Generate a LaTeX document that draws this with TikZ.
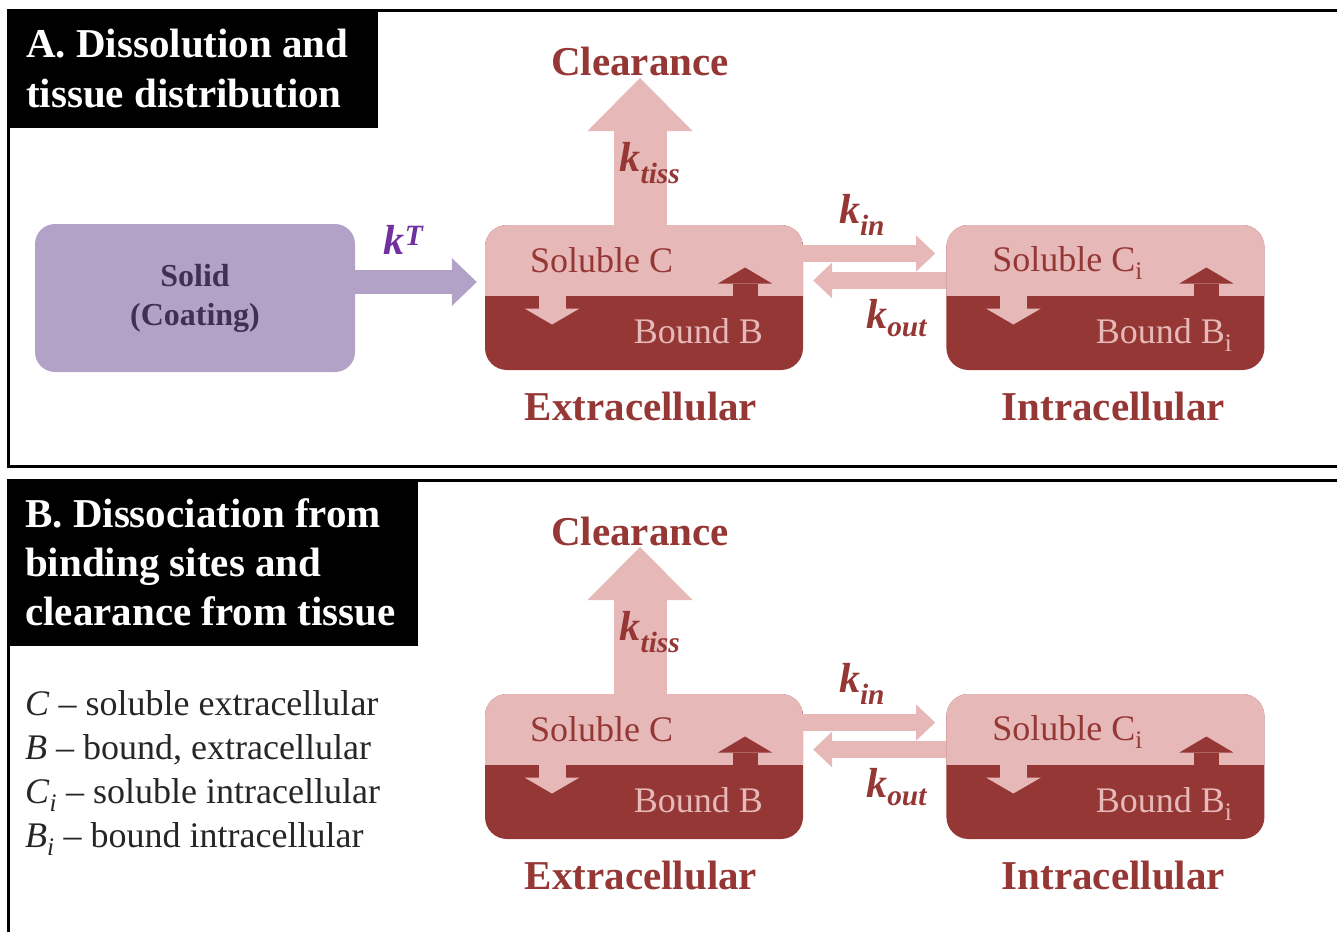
\documentclass[tikz,border=0pt]{standalone}
\usepackage{fontspec}
\setmainfont{Liberation Serif}
\usetikzlibrary{arrows.meta,positioning}
\definecolor{pinkL}{HTML}{E6B9B8}
\definecolor{redD}{HTML}{953735}
\definecolor{lilac}{HTML}{B3A2C7}
\definecolor{plum}{HTML}{403152}
\definecolor{kTcol}{HTML}{7030A0}
\newcommand{\rk}[1]{\textbf{\textit{k}}\textsubscript{\textbf{\textit{#1}}}}
\begin{document}
\begin{tikzpicture}[x=1pt,y=-1pt,
    font=\fontsize{36}{42}\selectfont,
    comp/.style={rounded corners=22pt, minimum width=318pt, minimum height=145pt,
      fill=redD, inner sep=0pt,
      path picture={\fill[pinkL, sharp corners] (path picture bounding box.north west)
        rectangle ([yshift=1.5pt]path picture bounding box.east);}},
    solidbox/.style={rounded corners=20pt, minimum width=320pt, minimum height=148pt,
      fill=lilac, text=plum, align=center, font=\fontsize{32}{39}\selectfont\bfseries},
    flux/.style={draw=pinkL, line width=17pt, -{Triangle[length=19pt,width=36pt,line width=0pt]}},
    upflow/.style={draw=pinkL, line width=53pt, -{Triangle[length=53pt,width=105pt,line width=0pt]}},
    dissolve/.style={draw=lilac, line width=24pt, -{Triangle[length=25pt,width=48pt,line width=0pt]}},
    tobound/.style={draw=pinkL, line width=27pt, -{Triangle[length=16pt,width=55pt,line width=0pt]}},
    tosol/.style={draw=redD, line width=25pt, -{Triangle[length=16pt,width=54pt,line width=0pt]}},
    rate/.style={text=redD, font=\fontsize{42}{42}\selectfont, inner sep=0pt},
    region/.style={text=redD, font=\fontsize{41}{41}\selectfont\bfseries, inner sep=0pt},
    soltext/.style={text=redD, inner sep=0pt},
    bndtext/.style={text=pinkL, inner sep=0pt},
    title/.style={text=white, align=left, inner sep=0pt},
    legend/.style={text=black!85, font=\fontsize{36}{36}\selectfont, inner sep=0pt, anchor=base west}]
  \useasboundingbox (0,0) rectangle (1337,931);

  % panel frames and title boxes
  \draw[line width=3pt] (8,11) rectangle (1350,466);
  \draw[line width=3pt] (8,480) rectangle (1350,945);
  \fill (8,11) rectangle (378,128);
  \fill (8,480) rectangle (418,646);
  \node[title, anchor=base west, font=\fontsize{41}{50}\selectfont\bfseries] (titA) at (26,108)
    {A. Dissolution and\\tissue distribution};
  \node[title, anchor=base west, font=\fontsize{41}{49}\selectfont\bfseries] (titB) at (25,625)
    {B. Dissociation from\\binding sites and\\clearance from tissue};

  % both panels share the tissue compartments
  \foreach \pn/\dy in {A/0,B/469} {
    \begin{scope}[yshift=-\dy pt]
      \node[comp] (ext\pn) at (644,297.5) {};
      \node[comp, right=143pt of ext\pn] (int\pn) {};

      \node[soltext, anchor=base west] (sol\pn) at ([shift={(45,48)}]ext\pn.north west) {Soluble C};
      \node[bndtext, anchor=base east] (bnd\pn) at ([shift={(-40,-27)}]ext\pn.south east) {Bound B};
      \node[soltext, anchor=base west] (soli\pn) at ([shift={(46,47)}]int\pn.north west) {Soluble C\textsubscript{i}};
      \node[bndtext, anchor=base east] (bndi\pn) at ([shift={(-32,-27)}]int\pn.south east) {Bound B\textsubscript{i}};

      \node[region, below=22pt of ext\pn, xshift=-3pt] (extlab\pn) {Extracellular};
      \node[region, below=22pt of int\pn, xshift=8pt] (intlab\pn) {Intracellular};
      \node[region, anchor=base] (clear\pn) at (640,76) {Clearance};

      % binding and release inside the compartments
      \draw[tobound] ([shift={(-92,-6)}]ext\pn.center) -- ++(0,33);
      \draw[tosol] ([shift={(101,6)}]ext\pn.center) -- ++(0,-36);
      \draw[tobound] ([shift={(-92,-6)}]int\pn.center) -- ++(0,33);
      \draw[tosol] ([shift={(101,6)}]int\pn.center) -- ++(0,-36);

      % transport and clearance
      \draw[upflow] (ext\pn.north -| clear\pn.base) -- ([yshift=-2pt]clear\pn.base);
      \coordinate (kinS\pn) at ([yshift=44pt]ext\pn.east);
      \coordinate (koutS\pn) at ([yshift=17pt]int\pn.west);
      \draw[flux, shorten >=11pt] (kinS\pn) -- (kinS\pn -| int\pn.west);
      \draw[flux, shorten >=10pt] (koutS\pn) -- (koutS\pn -| ext\pn.east);

      \node[rate] (ktiss\pn) at (650,163) {\rk{tiss}};
      \node[rate] (kin\pn) at (862,215) {\rk{in}};
      \node[rate] (kout\pn) at (897,318) {\rk{out}};
    \end{scope}
  }

  % dissolution from the coating
  \node[solidbox] (solid) at (195,298) {Solid\\(Coating)};
  \coordinate (dsl) at ([yshift=16pt]solid.east);
  \draw[dissolve, shorten >=8pt] (dsl) -- (dsl -| extA.west);
  \node[rate, text=kTcol] (kT) at (404,240) {\textbf{\textit{k}}\textsuperscript{\textbf{\textit{T}}}};

  % legend
  \node[legend] (legC) at (25,715) {\textit{C} -- soluble extracellular};
  \node[legend] (legB) at (25,759) {\textit{B} -- bound, extracellular};
  \node[legend] (legCi) at (25,803) {\textit{C}\textsubscript{\textit{i}} -- soluble intracellular};
  \node[legend] (legBi) at (25,847) {\textit{B}\textsubscript{\textit{i}} -- bound intracellular};
\end{tikzpicture}
\end{document}
